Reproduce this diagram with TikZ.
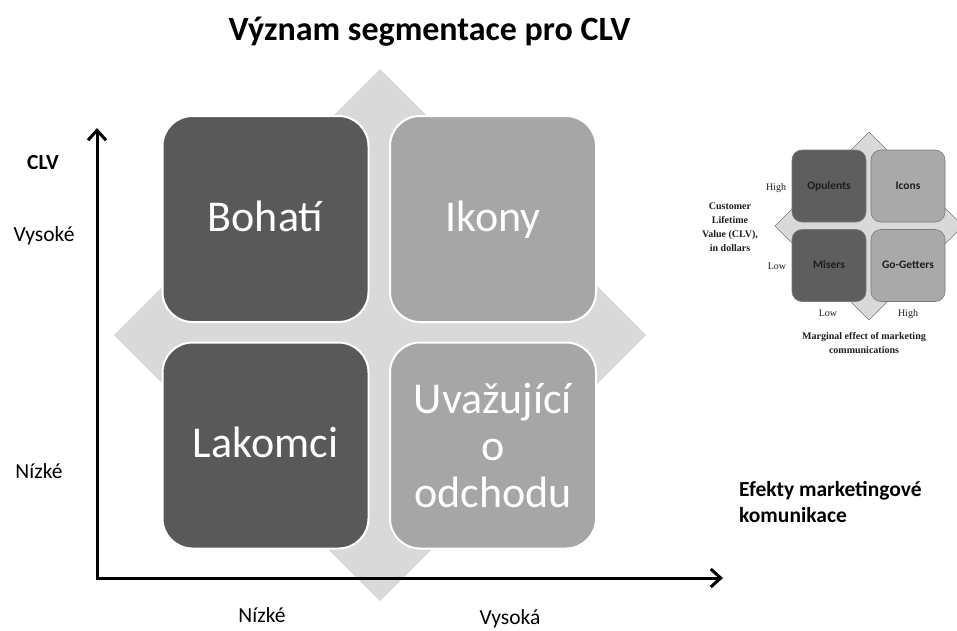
\documentclass[tikz,border=0pt]{standalone}
\usepackage{fontspec}
\setmainfont{Carlito}
\newfontfamily\bookserif{Liberation Serif}
\usetikzlibrary{arrows.meta}

\definecolor{quaddark}{HTML}{595959}
\definecolor{quadlight}{HTML}{A6A6A6}
\definecolor{crossfill}{HTML}{D9D9D9}
\definecolor{smalldark}{HTML}{5E5E5E}
\definecolor{smalllight}{HTML}{A9A9A9}
\definecolor{smallline}{HTML}{7A7A7A}
\definecolor{smalltext}{HTML}{1E1E1E}

\tikzset{
  quad/.style={rounded corners=30pt, draw=white, line width=2pt,
    minimum width=206pt, minimum height=206pt, inner sep=0pt,
    text=white, align=center, font=\fontsize{44}{47}\selectfont},
  darkquad/.style={quad, fill=quaddark},
  lightquad/.style={quad, fill=quadlight},
  oneline/.style={text height=32pt, text depth=8pt},
  axisline/.style={line width=3pt, line join=miter,
    {Straight Barb[length=10pt,width=18pt]}-{Straight Barb[length=10pt,width=18pt]}},
  axislabel/.style={anchor=base, inner sep=0pt, font=\fontsize{21.5}{26}\selectfont},
  minibox/.style={rounded corners=10pt, draw=smallline, line width=0.6pt,
    minimum width=74pt, minimum height=72pt, inner sep=0pt,
    text height=8pt, text depth=2pt,
    text=smalltext, font=\fontsize{11.5}{13}\selectfont\bfseries},
  minidark/.style={minibox, fill=smalldark},
  minilight/.style={minibox, fill=smalllight},
  minilabel/.style={anchor=base, inner sep=0pt, text=smalltext,
    font=\bookserif\fontsize{10}{14}\selectfont},
  minititle/.style={inner sep=0pt, text=smalltext, align=center,
    font=\bookserif\bfseries\fontsize{10}{14}\selectfont}
}

\begin{document}
\begin{tikzpicture}[x=1pt, y=-1pt]
  \useasboundingbox (0,0) rectangle (957,630);
  \clip (0,0) rectangle (957,630);

  % title
  \node[anchor=base, inner sep=0pt, font=\fontsize{34}{40}\selectfont\bfseries]
    (title) at (429.5,40) {Význam segmentace pro CLV};

  % cross behind the four segments
  \fill[crossfill] (380,69) -- (646,335) -- (380,601) -- (114,335) -- cycle;

  % the four segments
  \node[darkquad, oneline]  (bohati)  at (265.5,219)   {Bohatí};
  \node[lightquad, oneline] (ikony)   at (493,219)     {Ikony};
  \node[darkquad, oneline]  (lakomci) at (265.5,445.5) {Lakomci};
  \node[lightquad] (uvazujici) at (493,445.5) {Uvažující\\o\\odchodu};

  % axes
  \coordinate (origin) at (97,578);
  \coordinate (ytip) at (97,128);
  \coordinate (xtip) at (723,578);
  \draw[axisline] (ytip) -- (origin) -- (xtip);

  % axis labels
  \node[axislabel, font=\fontsize{21.5}{26}\selectfont\bfseries] (clv) at (43,169) {CLV};
  \node[axislabel] (vysoke) at (44,241) {Vysoké};
  \node[axislabel] (nizkey) at (39,478) {Nízké};
  \node[axislabel] (nizkex) at (262,622) {Nízké};
  \node[axislabel] (vysoka) at (510,624) {Vysoká};
  \node[anchor=base west, inner sep=0pt, align=left,
    font=\fontsize{21.5}{26}\selectfont\bfseries] (efekty) at (739,522)
    {Efekty marketingové\\komunikace};

  % small original matrix
  \filldraw[fill=crossfill, draw=smallline, line width=0.6pt]
    (869,132) -- (963,226) -- (869,320) -- (775,226) -- cycle;
  \node[minidark]  (opulents)   at (829,186) {Opulents};
  \node[minilight] (icons)      at (908,186) {Icons};
  \node[minidark]  (misers)     at (829,265.5) {Misers};
  \node[minilight] (gogetters)  at (908,265.5) {Go-Getters};

  \node[minilabel] (high)  at (776,190.5) {High};
  \node[minilabel] (low)   at (777,269.5) {Low};
  \node[minilabel] (lowx)  at (828,316) {Low};
  \node[minilabel] (highx) at (908,316) {High};
  \node[minititle] (clvtitle) at (730,227)
    {Customer\\Lifetime\\Value (CLV),\\in dollars};
  \node[minititle] (mecomm) at (864,343)
    {Marginal effect of marketing\\communications};
\end{tikzpicture}
\end{document}
